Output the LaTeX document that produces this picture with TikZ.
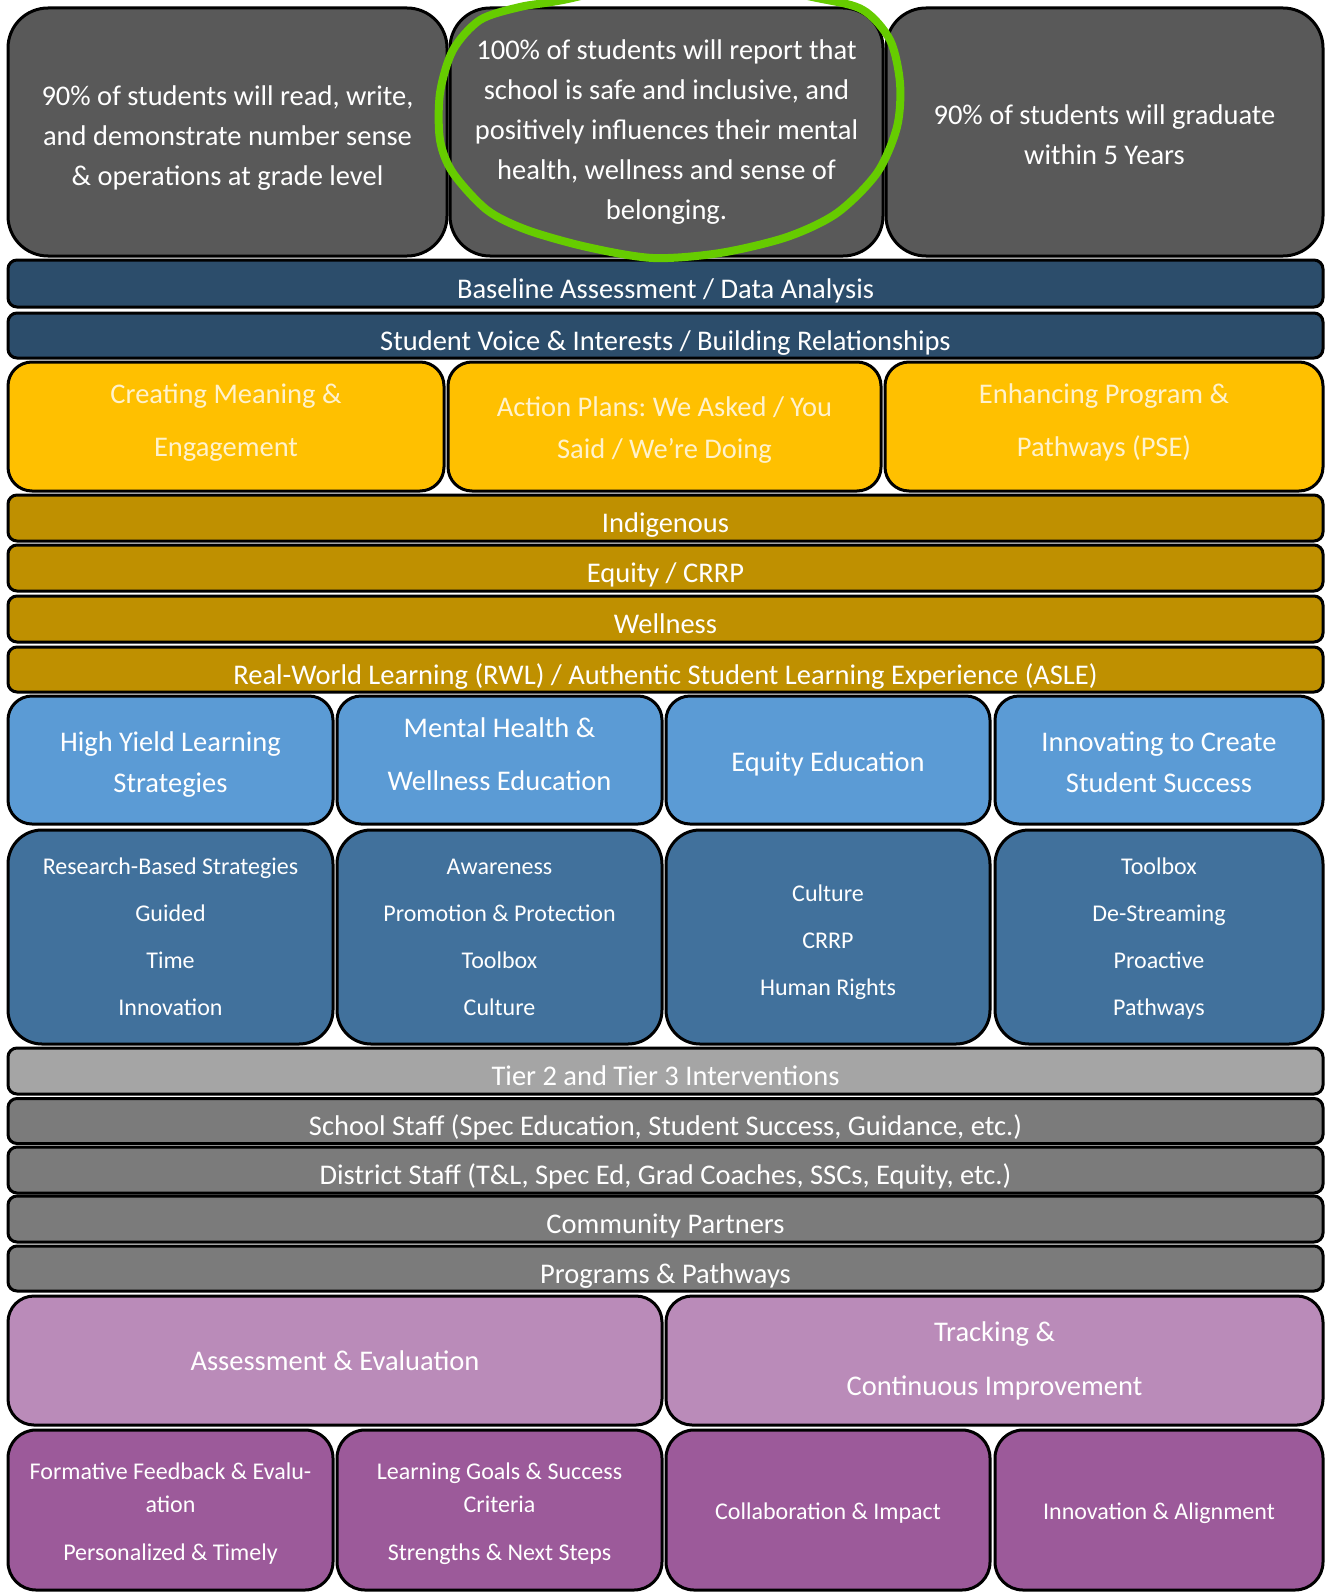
\documentclass[tikz,border=0pt]{standalone}
\usepackage{fontspec}
\setmainfont{Carlito}
\usepackage{tikz}
\frenchspacing

\definecolor{goalgray}{HTML}{595959}
\definecolor{navybar}{HTML}{2C4D6B}
\definecolor{yellowbox}{HTML}{FFC000}
\definecolor{yellowtext}{HTML}{FFF2CC}
\definecolor{goldbar}{HTML}{BF9000}
\definecolor{skyblue}{HTML}{5B9BD5}
\definecolor{steelblue}{HTML}{41719C}
\definecolor{tiergray}{HTML}{A5A5A5}
\definecolor{staffgray}{HTML}{7B7B7B}
\definecolor{lilac}{HTML}{BA8BB9}
\definecolor{plum}{HTML}{9C5A9A}
\definecolor{loopgreen}{HTML}{66CC00}

% style, name, x1, y1, x2, y2, text
\newcommand{\panel}[7]{%
  \node[#1, minimum width={(#5-#3)*1pt}, minimum height={(#6-#4)*1pt}]
    (#2) at ({(#3+#5)/2},{(#4+#6)/2}) {#7};}

\tikzset{
  tile/.style={draw=black, line width=3pt, inner sep=0pt, align=center, text=white},
  drop/.style={text height=#1, text depth=8pt},
  goal/.style={tile, fill=goalgray, rounded corners=40pt, font=\fontsize{28.5}{40}\selectfont},
  bar/.style={tile, rounded corners=9pt, font=\fontsize{28.5}{30}\selectfont, drop=37pt},
  focus/.style={tile, fill=yellowbox, text=yellowtext, rounded corners=24pt},
  theme/.style={tile, fill=skyblue, rounded corners=24pt},
  detail/.style={tile, fill=steelblue, rounded corners=34pt, font=\fontsize{24}{47}\selectfont},
  review/.style={tile, fill=lilac, rounded corners=26pt},
  practice/.style={tile, fill=plum, rounded corners=28pt, font=\fontsize{24}{33}\selectfont},
}

\begin{document}
\begin{tikzpicture}[x=1pt,y=-1pt]
\useasboundingbox[fill=white] (0,0) rectangle (1326,1592);

% Goals
\panel{goal, drop=115pt}{goalread}{8}{8}{447}{256}{90\% of students will read, write,\\and demonstrate number sense\\\& operations at grade level}
\panel{goal}{goalsafe}{450}{8}{883}{256}{100\% of students will report that\\school is safe and inclusive, and\\positively influences their mental\\health, wellness and sense of\\belonging.}
\panel{goal, drop=73pt}{goalgrad}{886}{8}{1323}{256}{90\% of students will graduate\\within 5 Years}

% Foundation bars
\foreach \ya/\yb/\nm/\txt in {260/307/baseline/{Baseline Assessment / Data Analysis},
                              313/358/voice/{Student Voice \& Interests / Building Relationships}} {
  \panel{bar, fill=navybar}{\nm}{8}{\ya}{1323}{\yb}{\txt}
}

% Focus areas
\panel{focus, font=\fontsize{28.5}{53}\selectfont, drop=67pt}{meaning}{8}{362}{444}{491}{Creating Meaning \&\\Engagement}
\panel{focus, font=\fontsize{28.5}{42}\selectfont, drop=72pt}{actions}{448}{362}{881}{491}{Action Plans: We Asked / You\\Said / We’re Doing}
\panel{focus, font=\fontsize{28.5}{53}\selectfont, drop=67pt}{programs}{885}{362}{1323}{491}{Enhancing Program \&\\Pathways (PSE)}

\foreach \ya/\yb/\nm/\txt in {495/541/indigenous/Indigenous,
                              545/591/equity/{Equity / CRRP},
                              596/642/wellness/Wellness,
                              647/692/rwl/{Real-World Learning (RWL) / Authentic Student Learning Experience (ASLE)}} {
  \panel{bar, fill=goldbar}{\nm}{8}{\ya}{1323}{\yb}{\txt}
}

% Themes
\panel{theme, font=\fontsize{28.5}{41}\selectfont, drop=72pt}{yield}{8}{696}{333}{824}{High Yield Learning\\Strategies}
\panel{theme, font=\fontsize{28.5}{53}\selectfont, drop=68pt}{mental}{337}{696}{662}{824}{Mental Health \&\\Wellness Education}
\panel{theme, font=\fontsize{28.5}{41}\selectfont, drop=31pt}{equityed}{666}{696}{990}{824}{Equity Education}
\panel{theme, font=\fontsize{28.5}{41}\selectfont, drop=72pt}{innovate}{995}{696}{1323}{824}{Innovating to Create\\Student Success}

\panel{detail}{yieldlist}{8}{830}{333}{1044}{Research-Based Strategies\\Guided\\Time\\Innovation}
\panel{detail}{mentallist}{337}{830}{662}{1044}{Awareness\\Promotion \& Protection\\Toolbox\\Culture}
\panel{detail, drop=124pt}{equitylist}{666}{830}{990}{1044}{Culture\\CRRP\\Human Rights}
\panel{detail, drop=165pt}{innovatelist}{995}{830}{1323}{1044}{Toolbox\\De-Streaming\\Proactive\\Pathways}

% Supports
\panel{bar, fill=tiergray}{tiers}{8}{1048}{1323}{1094}{Tier 2 and Tier 3 Interventions}
\foreach \ya/\yb/\nm/\txt in {1099/1143/school/{School Staff (Spec Education, Student Success, Guidance, etc.)},
                              1147/1193/district/{District Staff (T\&L, Spec Ed, Grad Coaches, SSCs, Equity, etc.)},
                              1196/1242/community/Community Partners,
                              1246/1291/pathways/Programs \& Pathways} {
  \panel{bar, fill=staffgray}{\nm}{8}{\ya}{1323}{\yb}{\txt}
}

% Assessment
\panel{review, font=\fontsize{28.5}{53}\selectfont, drop=28pt}{assess}{8}{1296}{662}{1425}{Assessment \& Evaluation}
\panel{review, font=\fontsize{28.5}{54}\selectfont, drop=77pt}{tracking}{666}{1296}{1323}{1425}{Tracking \&\\Continuous Improvement}

\panel{practice, drop=109pt}{formative}{8}{1430}{333}{1590}{Formative Feedback \& Evalu-\\ation\\[15pt]Personalized \& Timely}
\panel{practice, drop=109pt}{goals}{337}{1430}{662}{1590}{Learning Goals \& Success\\Criteria\\[15pt]Strengths \& Next Steps}
\panel{practice, drop=26pt}{collab}{666}{1430}{990}{1590}{Collaboration \& Impact}
\panel{practice, drop=26pt}{align}{995}{1430}{1323}{1590}{Innovation \& Alignment}

% hand-drawn highlight
\begin{scope}
\clip (0,0) rectangle (1326,1592);
\draw[loopgreen, line width=8pt, line cap=round] plot[smooth cycle, tension=0.5] coordinates {
  (690,-25) (563,0) (520,7) (480,20) (453,50) (440,93) (440,140) (453,173) (487,210) (527,230)
  (587,247) (653,258) (720,253) (787,237) (837,213) (877,173) (897,127) (900,83) (890,40) (863,10) (817,-2)};
\end{scope}
\end{tikzpicture}
\end{document}
